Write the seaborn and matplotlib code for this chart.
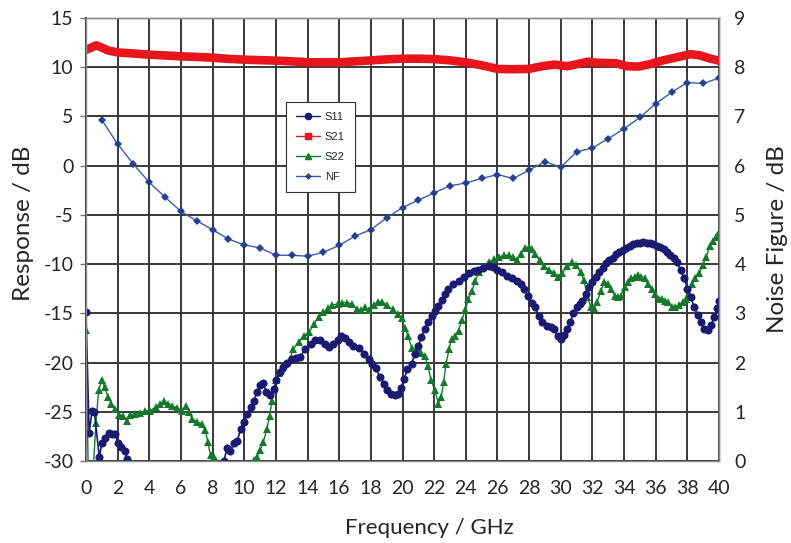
import matplotlib
matplotlib.use("Agg")
import matplotlib.pyplot as plt
from matplotlib.lines import Line2D
import seaborn as sns
import numpy as np

# ---- measured data -------------------------------------------------------
s11_freq = [0.0, 0.2, 0.38, 0.53, 0.84, 1.0, 1.22, 1.43, 1.65, 1.86, 2.03, 2.24, 2.45, 2.6, 3.0,
            4.0, 5.0, 6.0, 7.0, 8.0, 8.5,
            8.71, 8.92, 9.13, 9.35, 9.56, 9.77, 9.98, 10.2, 10.4, 10.6, 10.8, 11.0, 11.2, 11.4,
            11.65, 11.86, 12.03, 12.24, 12.45, 12.7, 13.0, 13.3, 13.55, 13.87, 14.2, 14.5, 14.8,
            15.1, 15.35, 15.6, 15.9, 16.1, 16.35, 16.6, 16.9, 17.25, 17.57, 17.9, 18.1, 18.3,
            18.6, 18.85, 19.05, 19.26, 19.5, 19.7, 19.9, 20.1, 20.3, 20.57, 20.8, 21.0, 21.2,
            21.4, 21.6, 21.84, 22.05, 22.27, 22.5, 22.7, 22.9, 23.2, 23.54, 23.86, 24.2, 24.5,
            24.8, 25.1, 25.44, 25.7, 25.97, 26.3, 26.6, 26.9, 27.25, 27.46, 27.67, 27.9, 28.2,
            28.4, 28.6, 28.8, 29.1, 29.36, 29.6, 29.8, 30.0, 30.2, 30.4, 30.6, 30.8, 31.0, 31.2,
            31.36, 31.57, 31.8, 32.0, 32.2, 32.4, 32.64, 32.86, 33.07, 33.3, 33.5, 33.7, 33.93,
            34.14, 34.36, 34.57, 34.8, 35.0, 35.2, 35.43, 35.64, 35.86, 36.07, 36.3, 36.5, 36.7,
            36.93, 37.14, 37.36, 37.57, 37.8, 38.0, 38.2, 38.43, 38.65, 38.86, 39.07, 39.3, 39.5,
            39.7, 39.9, 40.0]
s11_db = [-14.9, -27.2, -24.9, -25.0, -29.6, -28.2, -27.7, -27.2, -27.3, -27.3, -28.2, -28.6, -29.0, -29.8, -31.5,
          -34.0, -36.0, -37.0, -36.0, -33.0, -31.0,
          -30.0, -28.7, -29.0, -28.2, -28.0, -26.7, -26.0, -25.2, -24.5, -23.9, -23.0, -22.3, -22.1, -23.0,
          -23.3, -22.7, -21.8, -21.0, -20.4, -20.0, -19.6, -19.5, -19.4, -18.6, -18.1, -17.7, -17.7,
          -18.1, -18.4, -18.1, -17.7, -17.3, -17.5, -17.9, -18.3, -18.5, -19.1, -19.6, -20.1, -20.6,
          -21.5, -22.2, -22.8, -23.2, -23.3, -23.2, -22.6, -21.7, -20.7, -20.1, -19.1, -18.3, -17.4,
          -16.6, -15.9, -15.3, -14.8, -14.3, -13.6, -13.0, -12.5, -12.0, -11.7, -11.35, -10.95, -10.7,
          -10.6, -10.4, -10.24, -10.3, -10.57, -10.8, -11.2, -11.45, -11.7, -12.0, -12.5, -13.2, -13.9,
          -14.4, -15.3, -15.9, -16.25, -16.4, -16.6, -17.3, -17.6, -17.2, -16.6, -15.9, -15.0, -14.4, -14.0,
          -13.7, -13.0, -12.3, -11.8, -11.3, -10.8, -10.4, -9.93, -9.6, -9.35, -9.0, -8.74, -8.57,
          -8.33, -8.13, -8.0, -7.9, -7.9, -7.8, -7.9, -7.9, -8.0, -8.13, -8.3, -8.5, -8.74,
          -9.1, -9.4, -9.83, -10.6, -11.46, -12.5, -13.3, -14.35, -15.2, -15.9, -16.6, -16.7, -16.2,
          -15.4, -14.5, -13.7]

s21_freq = [0.0, 0.33, 0.66, 1.0, 1.4, 2.05, 3.0, 4.08, 5.0, 6.08, 7.0, 8.05, 9.0, 10.05, 11.0,
            12.05, 13.0, 14.05, 15.0, 16.03, 17.0, 18.03, 19.0, 20.0, 21.0, 22.0, 23.0, 24.0, 25.0,
            26.0, 27.0, 28.0, 28.8, 29.6, 30.4, 31.0, 31.7, 32.3, 33.0, 33.5, 34.2, 34.9, 35.6,
            36.4, 37.3, 38.2, 38.8, 39.4, 40.0]
s21_db = [11.77, 12.0, 12.23, 12.0, 11.7, 11.5, 11.4, 11.27, 11.2, 11.1, 11.05, 10.97, 10.85, 10.77, 10.72,
          10.67, 10.6, 10.5, 10.5, 10.5, 10.6, 10.7, 10.8, 10.87, 10.87, 10.83, 10.7, 10.5, 10.2,
          9.83, 9.8, 9.83, 10.1, 10.27, 10.1, 10.3, 10.57, 10.45, 10.43, 10.4, 10.1, 10.07, 10.3,
          10.67, 11.0, 11.33, 11.2, 10.9, 10.67]

s22_freq = [0.0, 0.15, 0.45, 0.63, 0.8, 1.0, 1.18, 1.39, 1.6, 1.86, 2.1, 2.34, 2.6, 2.8, 3.1, 3.44,
            3.76, 4.07, 4.4, 4.7, 4.9, 5.2, 5.44, 5.76, 6.07, 6.33, 6.5, 6.7, 7.0, 7.3, 7.55, 7.7,
            7.87, 8.08, 8.2, 8.5, 9.5, 10.3,
            10.6, 10.8, 11.0, 11.2, 11.44, 11.6, 11.75, 11.9, 12.03, 12.18, 12.4, 12.6, 12.9, 13.1,
            13.45, 13.76, 14.1, 14.4, 14.7, 15.0, 15.3, 15.56, 15.9, 16.2, 16.5, 16.8, 17.15, 17.36,
            17.6, 17.9, 18.2, 18.45, 18.7, 19.05, 19.37, 19.7, 19.94, 20.15, 20.36, 20.57, 20.8,
            21.0, 21.2, 21.4, 21.6, 21.8, 22.05, 22.27, 22.44, 22.6, 22.75, 22.95, 23.1, 23.3,
            23.54, 23.75, 23.96, 24.17, 24.4, 24.6, 24.85, 25.1, 25.44, 25.76, 26.1, 26.4, 26.7,
            27.0, 27.25, 27.46, 27.73, 28.0, 28.2, 28.4, 28.66, 28.94, 29.25, 29.6, 29.8, 30.1,
            30.4, 30.7, 30.97, 31.25, 31.46, 31.68, 31.9, 32.1, 32.3, 32.54, 32.75, 32.96, 33.2,
            33.4, 33.6, 33.8, 34.04, 34.25, 34.46, 34.68, 34.9, 35.1, 35.3, 35.5, 35.75, 35.96,
            36.2, 36.4, 36.6, 36.8, 37.04, 37.25, 37.47, 37.7, 37.9, 38.1, 38.3, 38.5, 38.75,
            38.97, 39.2, 39.4, 39.6, 39.8, 40.0]
s22_db = [-16.7, -32.0, -31.0, -26.1, -22.8, -21.8, -22.5, -23.5, -24.2, -24.7, -25.3, -25.4, -25.9, -25.3, -25.2, -25.1,
          -24.9, -24.9, -24.5, -24.2, -23.95, -24.2, -24.4, -24.6, -24.9, -24.4, -25.0, -25.7, -26.0, -26.2, -26.9, -28.1,
          -29.4, -29.6, -30.0, -32.0, -35.0, -32.0,
          -29.9, -29.6, -28.9, -28.1, -26.7, -25.4, -23.9, -22.7, -21.8, -21.1, -20.6, -20.1, -19.6, -18.6,
          -17.9, -17.3, -16.9, -16.1, -15.4, -14.9, -14.5, -14.2, -14.0, -13.9, -13.9, -14.05, -14.6, -14.7,
          -14.4, -14.7, -14.2, -13.8, -13.8, -14.2, -14.6, -15.1, -15.5, -16.5, -17.3, -18.5, -18.8,
          -18.6, -19.0, -19.3, -20.3, -21.8, -22.8, -24.2, -23.5, -22.0, -20.1, -18.6, -17.6, -17.3,
          -16.75, -15.7, -14.7, -13.55, -12.7, -11.7, -10.8, -10.3, -9.8, -9.5, -9.3, -9.1, -9.1,
          -9.3, -9.6, -9.0, -8.4, -8.3, -8.5, -9.0, -9.6, -10.2, -10.6, -10.9, -11.3, -10.9,
          -10.2, -9.8, -10.1, -10.8, -11.6, -13.3, -14.35, -14.5, -13.8, -12.75, -11.8, -12.0, -12.5,
          -13.2, -13.3, -13.2, -12.3, -11.8, -11.46, -11.3, -11.1, -11.3, -11.46, -12.0, -12.5, -13.0,
          -13.5, -13.5, -13.7, -13.8, -14.35, -14.35, -14.2, -13.8, -13.5, -13.0, -12.0, -11.46, -10.95,
          -10.1, -9.25, -8.2, -7.7, -7.2, -6.7]

nf_freq = list(range(1, 41))
nf_db = [6.93, 6.44, 6.03, 5.66, 5.36, 5.07, 4.88, 4.70, 4.51, 4.39,
         4.33, 4.18, 4.18, 4.16, 4.24, 4.38, 4.57, 4.70, 4.94, 5.15,
         5.30, 5.45, 5.59, 5.65, 5.74, 5.82, 5.74, 5.91, 6.08, 5.97,
         6.28, 6.36, 6.55, 6.75, 6.98, 7.26, 7.49, 7.69, 7.67, 7.78]

x_ticks = list(range(0, 41, 2))
left_ticks = list(range(-30, 16, 5))
right_ticks = list(range(0, 10))

# ---- styling --------------------------------------------------------------
sns.set_theme(style="white")
plt.rcParams["font.family"] = ["Lato", "DejaVu Sans"]
plt.rcParams["axes.unicode_minus"] = False

C_S11 = "#1a1a72"
C_S21 = "#e8161c"
C_S22 = "#127a2a"
C_NF = "#3a5cb0"
GRID = "#383838"

fig = plt.figure(figsize=(7.91, 5.43), dpi=100)
ax = fig.add_axes([0.1087, 0.151, 0.8003, 0.8158])
ax2 = ax.twinx()

sns.lineplot(x=s21_freq, y=s21_db, ax=ax, color=C_S21, linewidth=6.2, marker="s",
             markersize=5, markeredgewidth=0, sort=False, zorder=4)
sns.lineplot(x=s22_freq, y=s22_db, ax=ax, color=C_S22, linewidth=1.0, marker="^",
             markersize=5.5, markeredgewidth=0, sort=False, zorder=5)
sns.lineplot(x=s11_freq, y=s11_db, ax=ax, color=C_S11, linewidth=1.2, marker="o",
             markersize=5.8, markeredgewidth=0, sort=False, zorder=6)
sns.lineplot(x=nf_freq, y=nf_db, ax=ax2, color=C_NF, linewidth=1.0, marker="D",
             markersize=4, markeredgewidth=0, markerfacecolor="#24408f", sort=False)

ax.set_xlim(0, 40)
ax.set_ylim(-30, 15)
ax2.set_ylim(0, 9)
ax.set_xticks(x_ticks)
ax.set_yticks(left_ticks)
ax2.set_yticks(right_ticks)

ax.grid(True, color=GRID, linewidth=1.4)
ax.set_axisbelow(True)
for a in (ax, ax2):
    for s in a.spines.values():
        s.set_color("#8a8a8a")
        s.set_linewidth(1.0)
ax.spines["left"].set_color(GRID)
ax.spines["bottom"].set_color(GRID)
ax.spines["left"].set_linewidth(1.4)
ax.spines["bottom"].set_linewidth(1.4)

ax.tick_params(axis="both", which="major", labelsize=14, length=4, width=1,
               color="#777777", direction="out")
ax.tick_params(axis="x", pad=10)
ax.tick_params(axis="y", pad=5)
ax2.tick_params(axis="y", labelsize=14, length=0, pad=11)

ax.set_xlabel("Frequency / GHz", fontsize=16)
ax.set_ylabel("Response / dB", fontsize=17.5)
ax2.set_ylabel("Noise Figure / dB", fontsize=17.5)
ax.xaxis.set_label_coords(0.542, -0.128)
ax.yaxis.set_label_coords(-0.082, 0.537)
ax2.yaxis.set_label_coords(1.076, 0.5)

handles = [
    Line2D([], [], color=C_S11, marker="o", markersize=4.5, lw=1, label="S11"),
    Line2D([], [], color=C_S21, marker="s", markersize=4.5, lw=1, label="S21"),
    Line2D([], [], color=C_S22, marker="^", markersize=4.5, lw=1, label="S22"),
    Line2D([], [], color=C_NF, marker="D", markersize=3.5, lw=1, label="NF",
           markerfacecolor="#24408f", markeredgewidth=0),
]
leg = ax2.legend(handles=handles, loc="upper left", bbox_to_anchor=(0.316, 0.81),
                 frameon=True, fancybox=False, framealpha=1, edgecolor="#333333",
                 prop={"family": ["Liberation Sans", "DejaVu Sans"], "size": 8},
                 handlelength=2.2, handletextpad=0.4, labelspacing=0.9,
                 borderpad=0.9, borderaxespad=0)
leg.get_frame().set_linewidth(0.8)
leg.set_zorder(20)

fig.savefig("out.png", dpi=100)
